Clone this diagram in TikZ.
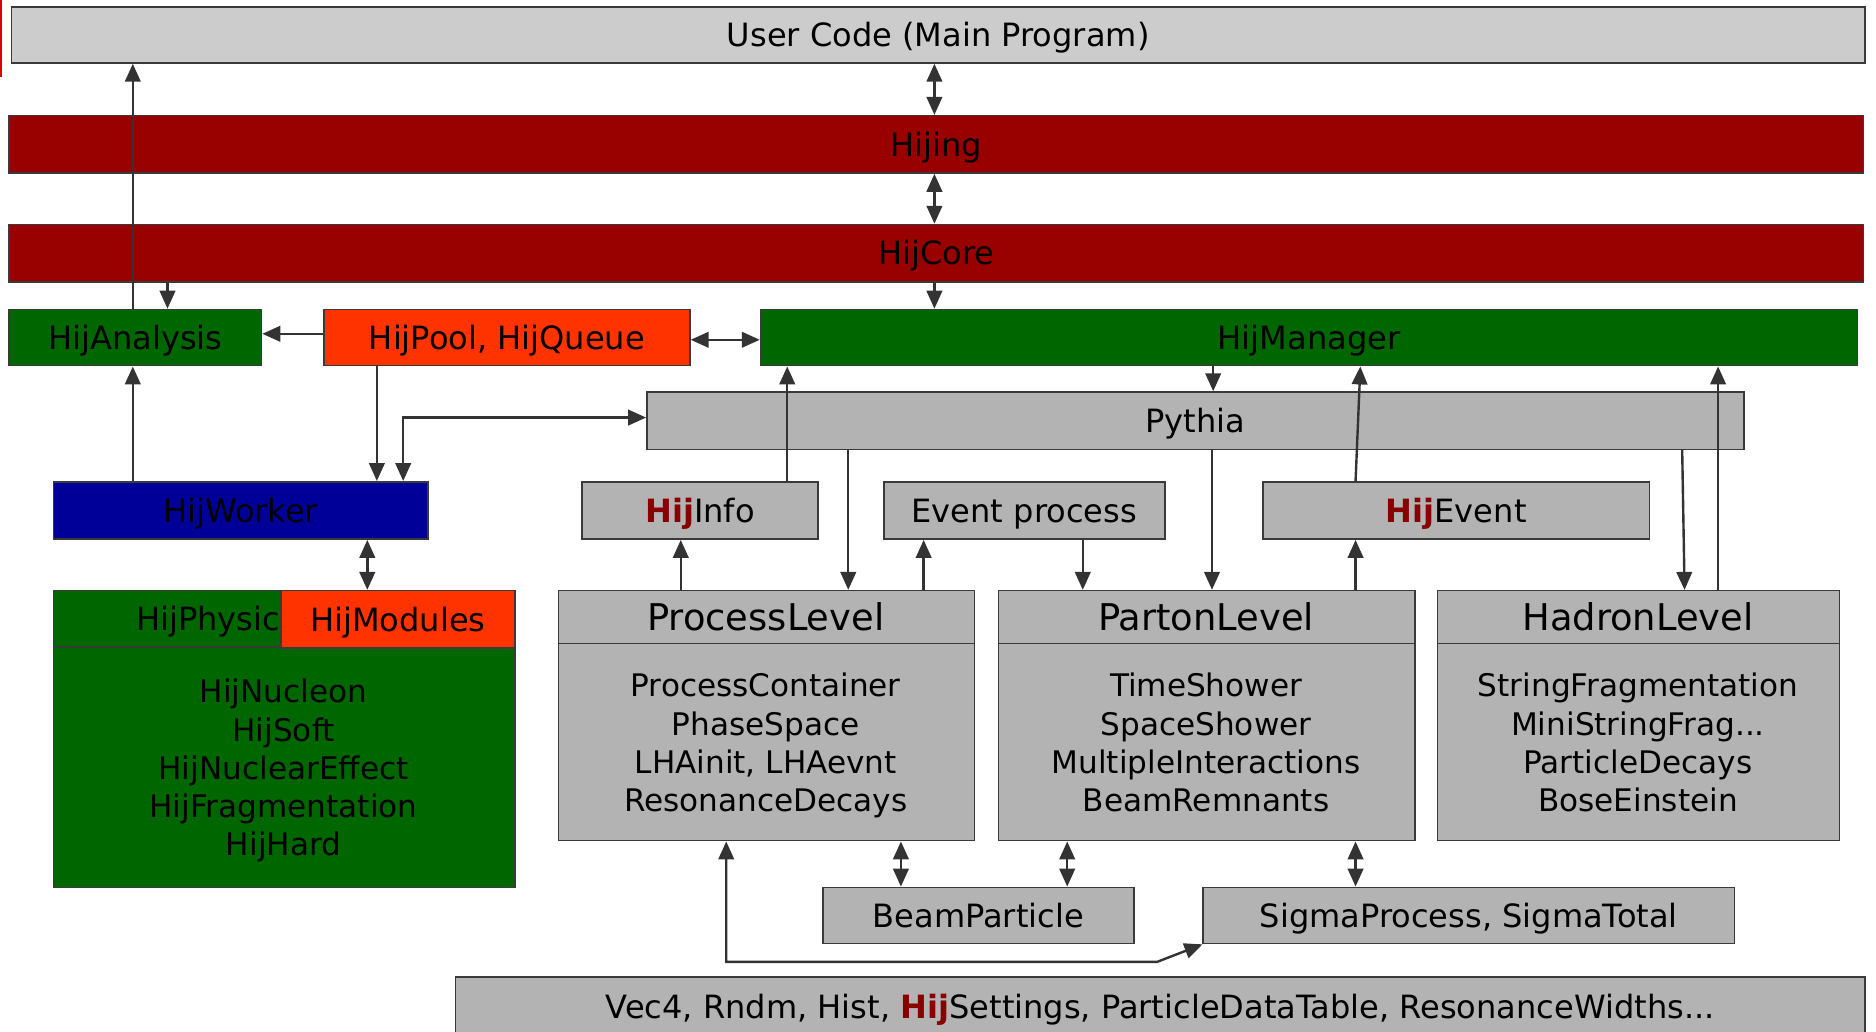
\documentclass[tikz,border=0pt]{standalone}
\usepackage{fontspec}
\setmainfont{DejaVu Sans}
\usetikzlibrary{arrows.meta}
\definecolor{lgray}{HTML}{CCCCCC}
\definecolor{mgray}{HTML}{B3B3B3}
\definecolor{dred}{HTML}{990000}
\definecolor{dgreen}{HTML}{006600}
\definecolor{orng}{HTML}{FF3300}
\definecolor{dblue}{HTML}{000099}
\definecolor{bordc}{HTML}{3A3A3A}
\definecolor{arrc}{HTML}{333333}
\definecolor{hijc}{HTML}{880000}
\newcommand{\hij}{\textcolor{hijc}{\bfseries Hij}}
\tikzset{
  box/.style={draw=bordc, line width=1.3pt, anchor=north west, inner sep=0pt,
    font=\fontsize{26.8pt}{32pt}\selectfont, text=black, text height=19.6pt, text depth=0pt},
  ttl/.style={inner sep=0pt, font=\fontsize{30.8pt}{36pt}\selectfont, text height=22.5pt, text depth=0pt},
  body/.style={inner sep=0pt, align=center, font=\fontsize{26pt}{32pt}\selectfont},
  arr/.style={draw=arrc, line width=2pt, -{Triangle[length=15pt,width=13pt]}},
  darr/.style={draw=arrc, line width=2pt, {Triangle[length=15pt,width=13pt]}-{Triangle[length=15pt,width=13pt]}},
}
\begin{document}
\begin{tikzpicture}[x=1pt,y=-1pt]
\useasboundingbox (0,0) rectangle (1568,862);
\fill[white] (0,0) rectangle (1568,862);
\draw[red!85!black, line width=1.2pt] (0.8,0) -- (0.8,64);
% top layers
\node[box, fill=lgray, minimum width=1549pt, minimum height=47pt] (uc) at (9,5) {User Code (Main Program)};
\node[box, fill=dred, minimum width=1550pt, minimum height=48pt] (hijing) at (7,96) {Hijing};
\node[box, fill=dred, minimum width=1550pt, minimum height=48pt] (core) at (7,187) {HijCore};
\node[box, fill=dgreen, minimum width=211pt, minimum height=47pt] (ana) at (7,258) {HijAnalysis};
\node[box, fill=orng, minimum width=306pt, minimum height=47pt] (pool) at (270,258) {HijPool, HijQueue};
\node[box, fill=dgreen, minimum width=917pt, minimum height=47pt] (mgr) at (635,258) {HijManager};
\node[box, fill=mgray, minimum width=917pt, minimum height=48pt] (py) at (540,327) {Pythia};
\node[box, fill=dblue, minimum width=313pt, minimum height=48pt] (wk) at (44,402) {HijWorker};
\node[box, fill=mgray, minimum width=197pt, minimum height=48pt] (info) at (486,402) {\hij Info};
\node[box, fill=mgray, minimum width=235pt, minimum height=48pt] (evp) at (738,402) {Event process};
\node[box, fill=mgray, minimum width=323pt, minimum height=48pt] (hev) at (1055,402) {\hij Event};
% physics block
\node[box, fill=dgreen, minimum width=386pt, minimum height=248pt] (phys) at (44,493) {};
\draw[draw=bordc, line width=1.3pt] (44,541) -- (430,541);
\node[box, anchor=center, draw=none] (physt) at (181,517) {HijPhysics};
\node[box, fill=orng, minimum width=196pt, minimum height=48pt] (mods) at (234,493) {HijModules};
\node[body] (physb) at (237,645) {HijNucleon\strut\\HijSoft\strut\\HijNuclearEffect\strut\\HijFragmentation\strut\\HijHard\strut};
% levels
\node[box, fill=mgray, minimum width=348pt, minimum height=209pt] (pl) at (466,493) {};
\draw[draw=bordc, line width=1.3pt] (466,538) -- (814,538);
\node[ttl] (plt) at (640,516) {ProcessLevel};
\node[body] (plb) at (640,624) {ProcessContainer\strut\\PhaseSpace\strut\\LHAinit, LHAevnt\strut\\ResonanceDecays\strut};
\node[box, fill=mgray, minimum width=348pt, minimum height=209pt] (ptl) at (834,493) {};
\draw[draw=bordc, line width=1.3pt] (834,538) -- (1182,538);
\node[ttl] (ptlt) at (1008,516) {PartonLevel};
\node[body] (ptlb) at (1008,624) {TimeShower\strut\\SpaceShower\strut\\MultipleInteractions\strut\\BeamRemnants\strut};
\node[box, fill=mgray, minimum width=336pt, minimum height=209pt] (hl) at (1201,493) {};
\draw[draw=bordc, line width=1.3pt] (1201,538) -- (1537,538);
\node[ttl] (hlt) at (1369,516) {HadronLevel};
\node[body] (hlb) at (1369,624) {StringFragmentation\strut\\MiniStringFrag...\strut\\ParticleDecays\strut\\BoseEinstein\strut};
% bottom
\node[box, fill=mgray, minimum width=260pt, minimum height=47pt] (bp) at (687,741) {BeamParticle};
\node[box, fill=mgray, minimum width=444pt, minimum height=47pt] (sig) at (1005,741) {SigmaProcess, SigmaTotal};
\node[box, fill=mgray, minimum width=1178pt, minimum height=50pt] (util) at (380,816) {Vec4, Rndm, Hist, \hij Settings, ParticleDataTable, ResonanceWidths...};
% connectors
\draw[arr] (111,0 |- ana.north) -- (111,0 |- uc.south);
\draw[arr] (140,0 |- core.south) -- (140,0 |- ana.north);
\draw[darr] (781,0 |- uc.south) -- (781,0 |- hijing.north);
\draw[darr] (781,0 |- hijing.south) -- (781,0 |- core.north);
\draw[arr] (781,0 |- core.south) -- (781,0 |- mgr.north);
\draw[arr] (0,279 -| pool.west) -- (0,279 -| ana.east);
\draw[darr] (0,284 -| pool.east) -- (0,284 -| mgr.west);
\draw[arr] (111,0 |- wk.north) -- (111,0 |- ana.south);
\draw[arr] (315,0 |- pool.south) -- (315,0 |- wk.north);
\draw[darr] (337,0 |- wk.north) |- (0,349 -| py.west);
\draw[darr] (307,0 |- wk.south) -- (307,0 |- mods.north);
\draw[arr] (658,0 |- info.north) -- (658,0 |- mgr.south);
\draw[arr] (1014,0 |- mgr.south) -- (1014,0 |- py.north);
\draw[arr] (1133,0 |- hev.north) -- (1137,0 |- mgr.south);
\draw[arr] (1436,0 |- hl.north) -- (1436,0 |- mgr.south);
\draw[arr] (1406,0 |- py.south) -- (1408,0 |- hl.north);
\draw[arr] (709,0 |- py.south) -- (709,0 |- pl.north);
\draw[arr] (569,0 |- pl.north) -- (569,0 |- info.south);
\draw[arr] (772,0 |- pl.north) -- (772,0 |- evp.south);
\draw[arr] (905,0 |- evp.south) -- (905,0 |- ptl.north);
\draw[arr] (1013,0 |- py.south) -- (1013,0 |- ptl.north);
\draw[arr] (1133,0 |- ptl.north) -- (1133,0 |- hev.south);
\draw[darr] (753,0 |- pl.south) -- (753,0 |- bp.north);
\draw[darr] (892,0 |- ptl.south) -- (892,0 |- bp.north);
\draw[darr] (1133,0 |- ptl.south) -- (1133,0 |- sig.north);
\draw[darr] (sig.south west) -- (967,804) -- (607,804) -- (607,0 |- pl.south);
\end{tikzpicture}
\end{document}
